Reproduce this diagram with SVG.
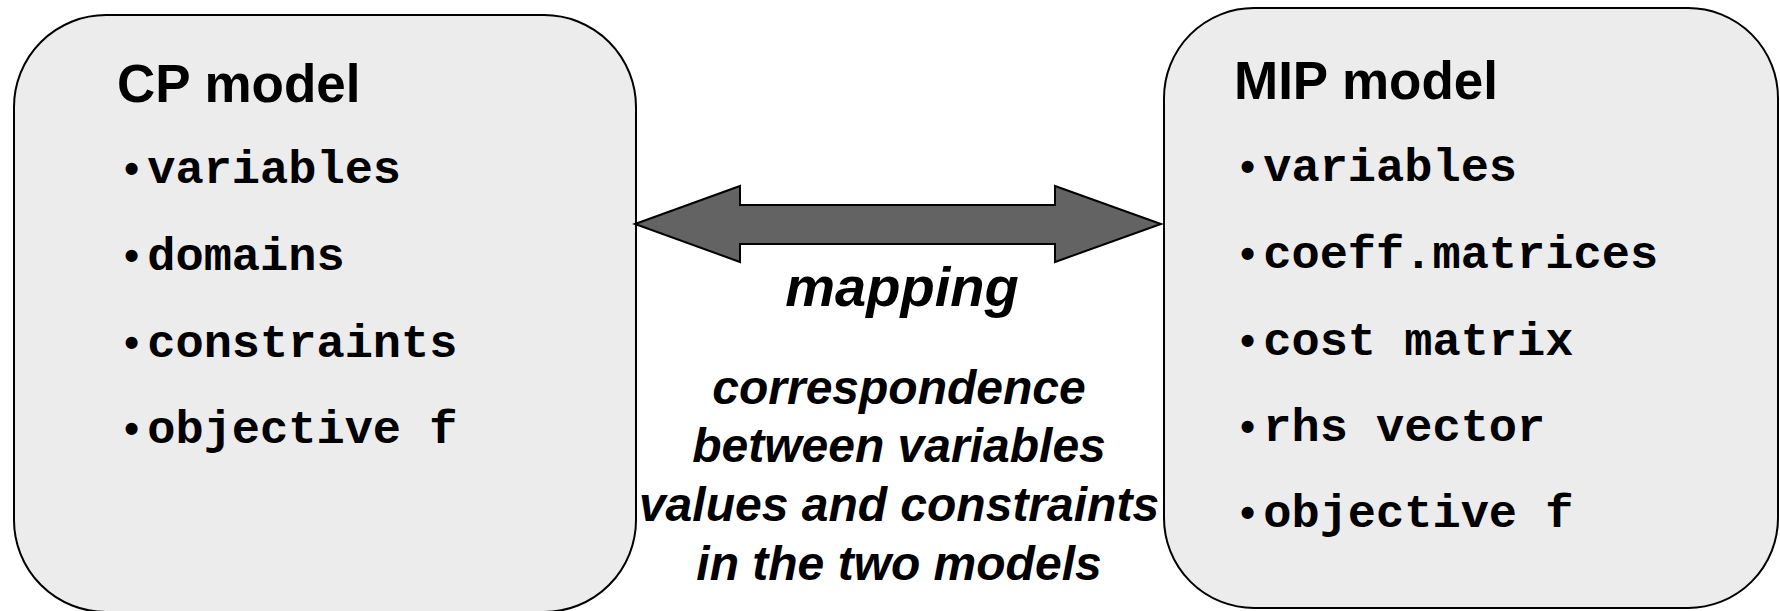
<svg xmlns="http://www.w3.org/2000/svg" width="1780" height="611" viewBox="0 0 1780 611">
<style>
.box{fill:#ececec;stroke:#000;stroke-width:2}
.title{font-family:"Liberation Sans",Arial,sans-serif;font-weight:bold;font-size:53px;fill:#000}
.item{font-family:"Liberation Mono","Courier New",monospace;font-weight:bold;font-size:47px;fill:#000}
.b{font-size:42px}
.mid{font-family:"Liberation Sans",Arial,sans-serif;font-weight:bold;font-style:italic;font-size:48px;fill:#000;text-anchor:middle}
.big{font-size:56px}
.arrow{fill:#636363;stroke:#000;stroke-width:2;stroke-linejoin:miter}
</style>
<rect width="1780" height="611" fill="#fff"/>
<g id="cp-model">
<rect class="box" x="14" y="15" width="622" height="597" rx="92" ry="92"/>
<text class="title" x="117" y="102">CP model</text>
<text class="item" x="119" y="183"><tspan class="b">•</tspan><tspan dx="3">variables</tspan></text>
<text class="item" x="119" y="270"><tspan class="b">•</tspan><tspan dx="3">domains</tspan></text>
<text class="item" x="119" y="357"><tspan class="b">•</tspan><tspan dx="3">constraints</tspan></text>
<text class="item" x="119" y="443"><tspan class="b">•</tspan><tspan dx="3">objective f</tspan></text>
</g>
<g id="mip-model">
<rect class="box" x="1164" y="8" width="614" height="600" rx="90" ry="90"/>
<text class="title" x="1234" y="99">MIP model</text>
<text class="item" x="1235" y="181"><tspan class="b">•</tspan><tspan dx="3">variables</tspan></text>
<text class="item" x="1235" y="268"><tspan class="b">•</tspan><tspan dx="3">coeff.matrices</tspan></text>
<text class="item" x="1235" y="355"><tspan class="b">•</tspan><tspan dx="3">cost matrix</tspan></text>
<text class="item" x="1235" y="441"><tspan class="b">•</tspan><tspan dx="3">rhs vector</tspan></text>
<text class="item" x="1235" y="527"><tspan class="b">•</tspan><tspan dx="3">objective f</tspan></text>
</g>
<g id="connectors">
<polygon class="arrow" points="635,224 740,186 740,205 1055,205 1055,186 1161,224 1055,262 1055,244 740,244 740,262"/>
</g>
<g id="mapping-label">
<text class="mid big" x="902" y="306">mapping</text>
<text class="mid" x="899" y="404">correspondence</text>
<text class="mid" x="899" y="462">between variables</text>
<text class="mid" x="899" y="521">values and constraints</text>
<text class="mid" x="899" y="580">in the two models</text>
</g>
</svg>
